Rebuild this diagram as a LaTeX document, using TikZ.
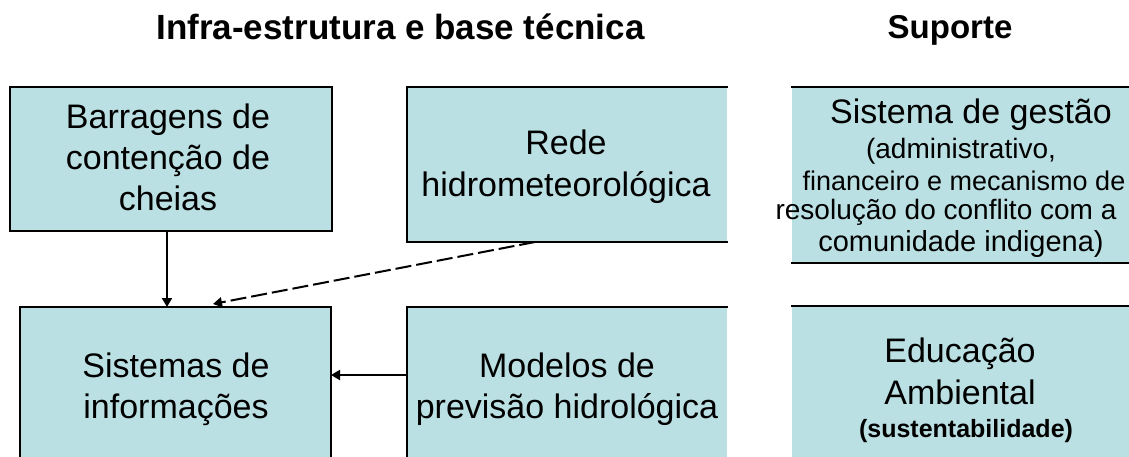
\documentclass[tikz,border=0pt]{standalone}
\usepackage{fontspec}
\setmainfont{Liberation Sans}
\usetikzlibrary{arrows.meta}
\definecolor{boxfill}{RGB}{187,224,227}
\tikzset{
  box/.style={rectangle, fill=boxfill, draw=none, inner sep=0pt, outer sep=0pt},
  edge/.style={line width=2.2pt, line cap=rect, line join=miter},
  arr/.style={line width=2pt, -{Triangle[length=9pt,width=10pt]}},
  dasharr/.style={arr, dash pattern=on 16pt off 5pt},
  txt/.style={inner sep=0pt, align=center},
  title/.style={inner sep=0pt, anchor=base, font=\fontsize{35}{40}\selectfont\bfseries},
  line/.style={inner sep=0pt, anchor=base}
}
\begin{document}
\begin{tikzpicture}[x=1pt,y=-1pt]
\useasboundingbox (0,0) rectangle (1129,457);
\clip (0,0) rectangle (1129,457);

% titles
\node[title] (t1) at (400.5,40) {Infra-estrutura e base técnica};
\node[title, font=\fontsize{33}{40}\selectfont\bfseries] (t2) at (950,39) {Suporte};

% boxes
\node[box, minimum width=322pt, minimum height=144pt] (barr) at (171,159) {};
\node[box, minimum width=320pt, minimum height=155pt] (rede) at (567,164.5) {};
\node[box, minimum width=343pt, minimum height=176pt] (gest) at (963.5,175) {};
\node[box, minimum width=311pt, minimum height=164pt] (sis) at (175.5,389) {};
\node[box, minimum width=320pt, minimum height=164pt] (mod) at (567,389) {};
\node[box, minimum width=343pt, minimum height=165pt] (edu) at (963.5,388.5) {};

% borders
\draw[edge] (barr.north west) rectangle (barr.south east);
\draw[edge] (rede.north east) -- (rede.north west) -- (rede.south west) -- (rede.south east);
\draw[edge] (gest.north west) -- (gest.north east);
\draw[edge] (gest.south west) -- (gest.south east);
\draw[edge] (sis.south west) -- (sis.north west) -- (sis.north east) -- (sis.south east);
\draw[edge] (mod.north east) -- (mod.north west) -- (mod.south west);
\draw[edge] (edu.north west) -- (edu.north east);

% texts
\node[txt, font=\fontsize{34}{41}\selectfont] (barrT) at (168,161)
  {\strut Barragens de\\\strut contenção de\\\strut cheias};
\node[txt, font=\fontsize{34}{42}\selectfont] (redeT) at (566,167.6)
  {\strut Rede\\\strut hidrometeorológica};
\node[txt, font=\fontsize{34}{41}\selectfont] (sisT) at (176,389.5)
  {\strut Sistemas de\\\strut informações};
\node[txt, font=\fontsize{34}{41}\selectfont] (modT) at (567,389.5)
  {\strut Modelos de\\\strut previsão hidrológica};

\node[line, font=\fontsize{34}{40}\selectfont] (g1) at (971,124) {Sistema de gestão};
\node[line, font=\fontsize{28}{32}\selectfont] (g2) at (961,159) {(administrativo,};
\node[line, font=\fontsize{27}{32}\selectfont] (g3) at (964,191) {financeiro e mecanismo de};
\node[line, font=\fontsize{28}{32}\selectfont] (g4) at (946,219) {resolução do conflito com a};
\node[line, font=\fontsize{29}{32}\selectfont] (g5) at (961,251) {comunidade indigena)};

\node[line, font=\fontsize{34}{40}\selectfont] (e1) at (960,362) {Educação};
\node[line, font=\fontsize{34}{40}\selectfont] (e2) at (960,404) {Ambiental};
\node[line, font=\fontsize{25}{30}\selectfont\bfseries] (e3) at (966,437) {(sustentabilidade)};

% connectors
\draw[arr] ([xshift=-4pt]barr.south) -- ([xshift=-4pt]barr.south |- sis.north);
\draw[dasharr] ([xshift=-32pt]rede.south) -- ([xshift=37.5pt,yshift=3pt]sis.north);
\draw[arr] ([yshift=14pt]mod.west) -- ([yshift=14pt]sis.east);
\end{tikzpicture}
\end{document}
